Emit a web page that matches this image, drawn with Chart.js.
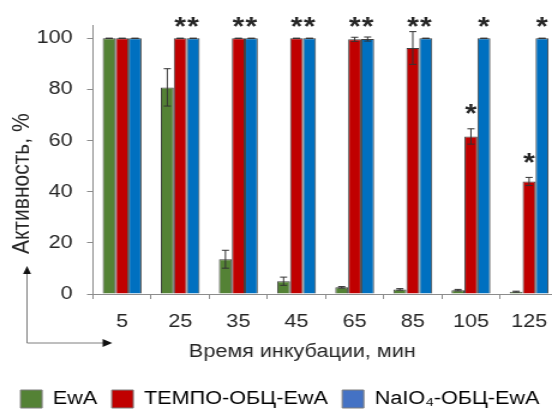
<!DOCTYPE html>
<html>
<head>
<meta charset="utf-8">
<script src="https://cdn.jsdelivr.net/npm/chart.js@4.4.1/dist/chart.umd.min.js"></script>
<style>
  html, body { margin: 0; padding: 0; overflow: hidden; background: #fff; }
  /* the original figure is stretched sideways, so the whole canvas is too */
  #wrap { position: relative; width: 468px; height: 418px; transform: scaleX(1.2); transform-origin: 0 0; }
</style>
</head>
<body>
<div id="wrap"><canvas id="myChart"></canvas></div>
<script>
const categories = ['5', '25', '35', '45', '65', '85', '105', '125'];

const ewa      = [100, 80.8, 13.6, 5.0, 2.6, 1.8, 1.5, 0.9];
const ewaErr   = [0, 7.3, 3.5, 1.6, 0.3, 0.3, 0.3, 0.2];
const tempo    = [100, 100, 100, 100, 99.6, 96.2, 61.6, 44.0];
const tempoErr = [0, 0, 0, 0, 0.8, 6.4, 3.0, 1.6];
const naio     = [100, 100, 100, 100, 99.7, 100, 100, 100];
const naioErr  = [0, 0, 0, 0, 0.8, 0, 0, 0];

const ewaStar   = [false, false, false, false, false, false, false, false];
const tempoStar = [false, true, true, true, true, true, true, true];
const naioStar  = [false, true, true, true, true, true, true, true];

const yTicks = [0, 20, 40, 60, 80, 100];
const seriesNames = ['EwA', 'ТЕМПО-ОБЦ-EwA', 'NaIO₄-ОБЦ-EwA'];
const barColors = ['#548235', '#C00000', '#0070C0'];
const legendColors = ['#548235', '#C00000', '#4472C4'];

const FONT = '"Liberation Sans", Arial, sans-serif';
const TEXT = '#262626';
const AXIS = '#8c8c8c';

const errs = [ewaErr, tempoErr, naioErr];
const stars = [ewaStar, tempoStar, naioStar];

const extras = {
    id: 'extras',
    afterDatasetsDraw(chart) {
        const ctx = chart.ctx;
        const y = chart.scales.y;
        ctx.save();
        chart.data.datasets.forEach((ds, i) => {
            const meta = chart.getDatasetMeta(i);
            meta.data.forEach((bar, j) => {
                const v = ds.data[j];
                const e = errs[i][j];
                const yt = y.getPixelForValue(v + e);
                const yb = y.getPixelForValue(v - e);
                ctx.strokeStyle = '#333';
                ctx.lineWidth = 1;
                ctx.beginPath();
                ctx.moveTo(bar.x, yt); ctx.lineTo(bar.x, yb);
                ctx.moveTo(bar.x - 3, yt); ctx.lineTo(bar.x + 3, yt);
                ctx.moveTo(bar.x - 3, yb); ctx.lineTo(bar.x + 3, yb);
                ctx.stroke();
                if (stars[i][j]) {
                    const size = 25;
                    const cy = Math.max(yt - 21, y.getPixelForValue(107));
                    ctx.font = 'bold ' + size + 'px ' + FONT;
                    ctx.fillStyle = TEXT;
                    ctx.textAlign = 'center';
                    ctx.textBaseline = 'alphabetic';
                    ctx.fillText('*', bar.x, cy + 0.57 * size);
                }
            });
        });
        ctx.restore();
    },
    afterDraw(chart) {
        const ctx = chart.ctx;
        const ca = chart.chartArea;
        ctx.save();
        ctx.fillStyle = TEXT;
        ctx.textAlign = 'center';
        ctx.textBaseline = 'middle';

        // axis titles
        ctx.font = '18px ' + FONT;
        ctx.fillText('Время инкубации, мин', ca.left + (ca.right - ca.left) * 0.45, ca.bottom + 58);
        ctx.save();
        ctx.translate(ca.left - 59, (ca.top + ca.bottom) / 2 + 24);
        ctx.rotate(-Math.PI / 2);
        ctx.font = '21px ' + FONT;
        ctx.fillText('Активность, %', 0, 0);
        ctx.restore();

        // corner arrows
        const ax = ca.left - 55;
        const ay = ca.bottom + 49;
        const vTip = ca.bottom - 28;
        const hTip = ca.left + 16;
        ctx.strokeStyle = '#7f7f7f';
        ctx.lineWidth = 1;
        ctx.beginPath();
        ctx.moveTo(ax, vTip + 6); ctx.lineTo(ax, ay); ctx.lineTo(hTip - 6, ay);
        ctx.stroke();
        ctx.fillStyle = '#111';
        ctx.beginPath();
        ctx.moveTo(ax, vTip); ctx.lineTo(ax - 3.3, vTip + 8); ctx.lineTo(ax + 3.3, vTip + 8);
        ctx.closePath(); ctx.fill();
        ctx.beginPath();
        ctx.moveTo(hTip, ay); ctx.lineTo(hTip - 8, ay - 4); ctx.lineTo(hTip - 8, ay + 4);
        ctx.closePath(); ctx.fill();
        ctx.restore();
    }
};

const chart = new Chart(document.getElementById('myChart'), {
    type: 'bar',
    data: {
        labels: categories,
        datasets: [ewa, tempo, naio].map((d, i) => ({
            label: seriesNames[i],
            data: d,
            backgroundColor: barColors[i],
            borderColor: '#404040',
            borderWidth: 1,
            categoryPercentage: 0.668,
            barPercentage: 1.0
        }))
    },
    options: {
        responsive: true,
        maintainAspectRatio: false,
        animation: false,
        layout: { padding: { top: 25.5, right: 1.3, left: 0, bottom: 0 } },
        plugins: {
            tooltip: { enabled: false },
            legend: {
                position: 'bottom',
                labels: {
                    boxWidth: 18,
                    boxHeight: 18,
                    padding: 12,
                    color: TEXT,
                    font: { size: 18, family: FONT },
                    generateLabels: () => seriesNames.map((name, i) => ({
                        text: name,
                        fillStyle: legendColors[i],
                        strokeStyle: '#7f7f7f',
                        lineWidth: 1,
                        datasetIndex: i,
                        hidden: false
                    }))
                }
            }
        },
        scales: {
            x: {
                offset: true,
                grid: { display: true, drawOnChartArea: false, drawTicks: true, tickLength: 5, color: AXIS, offset: true },
                border: { display: true, color: AXIS },
                ticks: { font: { size: 18, family: FONT }, color: TEXT, padding: 12, maxRotation: 0, autoSkip: false },
                afterFit: s => { s.height = 84; }
            },
            y: {
                min: 0,
                max: 105,
                afterBuildTicks: s => { s.ticks = yTicks.map(v => ({ value: v })); },
                grid: { drawOnChartArea: false, drawTicks: true, tickLength: 5, color: AXIS },
                border: { display: true, color: AXIS },
                ticks: { font: { size: 18, family: FONT }, color: TEXT, padding: 12 },
                afterFit: s => { s.width = 77.5; }
            }
        }
    },
    plugins: [extras]
});
</script>
</body>
</html>
